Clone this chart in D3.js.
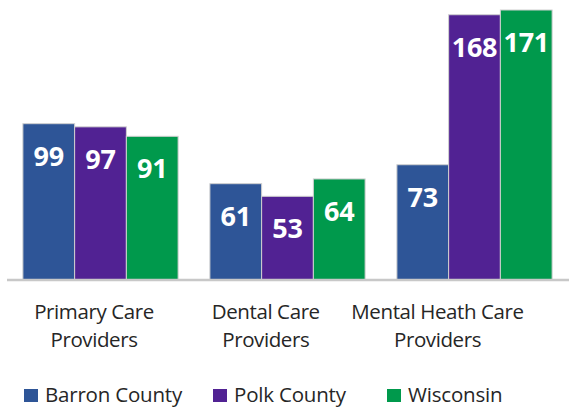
<!DOCTYPE html>
<html><head><meta charset="utf-8">
<script src="https://cdn.jsdelivr.net/npm/d3@7"></script>
<style>body{margin:0;background:#fff}svg{display:block}</style>
</head><body>
<svg id="c" width="569" height="408"></svg>
<script>
const categories = [["Primary Care", "Providers"], ["Dental Care", "Providers"], ["Mental Heath Care", "Providers"]];
const seriesNames = ["Barron County", "Polk County", "Wisconsin"];
const barron = [99, 61, 73];
const polk = [97, 53, 168];
const wisconsin = [91, 64, 171];
const colors = ["#2E5597", "#512293", "#00994C"];

const seriesValues = [barron, polk, wisconsin];
const svg = d3.select("#c");
const font = "'Open Sans', sans-serif";
const catKeys = categories.map(c => c.join(" "));

const x0 = d3.scaleBand().domain(catKeys).range([7, 568]).paddingInner(0.17).paddingOuter(0.085);
const x1 = d3.scaleBand().domain(seriesNames).range([0, x0.bandwidth()]);
const y = d3.scaleLinear().domain([0, 171]).range([280, 10]);
// category label positions (labels sit left of the bar-group centres)
const xl = d3.scalePoint().domain(catKeys).range([94, 437.5]);

const g = svg.append("g");
catKeys.forEach((k, ci) => {
  seriesNames.forEach((s, si) => {
    const v = seriesValues[si][ci];
    const bx = x0(k) + x1(s);
    g.append("rect").attr("x", bx).attr("y", y(v))
      .attr("width", x1.bandwidth()).attr("height", y(0) - y(v))
      .attr("fill", colors[si]).attr("stroke", "#d0d0d0").attr("stroke-width", 1);
    g.append("text").attr("x", bx + x1.bandwidth() / 2).attr("y", y(v) + 42)
      .attr("text-anchor", "middle").attr("fill", "#fff")
      .attr("font-family", font).attr("font-weight", "bold").attr("font-size", 27)
      .attr("letter-spacing", -0.3)
      .text(v);
  });
});

// axis baseline
const ax = svg.append("g").attr("transform", `translate(0,${y(0)})`)
  .call(d3.axisBottom(x0).tickSize(0).tickFormat(""));
ax.select(".domain").attr("stroke", "#c8c8c8").attr("stroke-width", 2.5)
  .attr("d", "M7,0H569");

// category labels
categories.forEach((c, i) => {
  const cx = xl(catKeys[i]);
  const t = svg.append("text").attr("text-anchor", "middle")
    .attr("font-family", font).attr("font-size", 20.5).attr("fill", "#262626")
    .attr("letter-spacing", -0.4);
  c.forEach((line, li) => {
    t.append("tspan").attr("x", cx).attr("y", 319 + li * 28).text(line);
  });
});

// legend
const legX = [24, 213, 387];
seriesNames.forEach((s, i) => {
  svg.append("rect").attr("x", legX[i]).attr("y", 389).attr("width", 14).attr("height", 13).attr("fill", colors[i]);
  svg.append("text").attr("x", legX[i] + 21).attr("y", 402)
    .attr("font-family", font).attr("font-size", 20.5).attr("fill", "#262626")
    .attr("letter-spacing", -0.2).text(s);
});
</script>
</body></html>
